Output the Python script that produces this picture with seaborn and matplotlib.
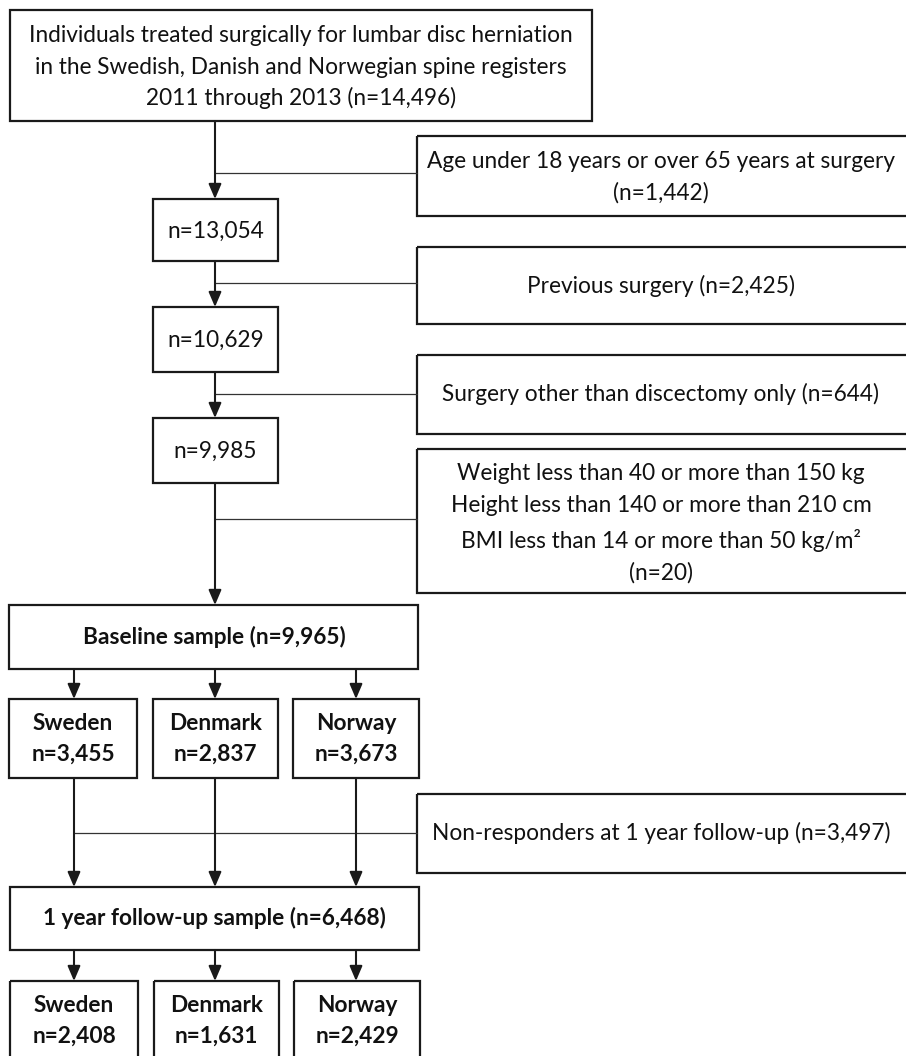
import matplotlib
matplotlib.use("Agg")
import matplotlib.pyplot as plt
import seaborn as sns
from matplotlib.patches import Rectangle

# ---- data ----
total_n = 14496
step_n = [13054, 10629, 9985]
exclusion_text = [
    ["Age under 18 years or over 65 years at surgery", "(n=1,442)"],
    ["Previous surgery (n=2,425)"],
    ["Surgery other than discectomy only (n=644)"],
    ["Weight less than 40 or more than 150 kg",
     "Height less than 140 or more than 210 cm",
     "BMI less than 14 or more than 50 kg/m\u00b2",
     "(n=20)"],
]
countries = ["Sweden", "Denmark", "Norway"]
baseline_total = 9965
baseline_n = [3455, 2837, 3673]
nonresponders = 3497
followup_total = 6468
followup_n = [2408, 1631, 2429]

top_lines = [
    "Individuals treated surgically for lumbar disc herniation",
    "in the Swedish, Danish and Norwegian spine registers",
    f"2011 through 2013 (n={total_n:,})",
]

# ---- layout (pixel coordinates, y downwards) ----
W, H = 906, 1056
main_x = 215
col_x = [74, 215, 356]
step_boxes = [(153, 199, 278, 261), (153, 307, 278, 372), (153, 418, 278, 483)]
excl_boxes = [(417, 136, 910, 216), (417, 247, 910, 324),
              (417, 355, 910, 434), (417, 449, 910, 593)]
excl_line_y = [173, 283, 394, 519]
excl_text_y = [[161, 193], [286], [394], [473, 505, 541, 573]]
country_x = [(9, 137), (153, 278), (293, 419)]

sns.set_theme(style="white")
plt.rcParams["font.family"] = ["Lato", "DejaVu Sans"]

fig = plt.figure(figsize=(W / 100, H / 100), dpi=100)
ax = fig.add_axes([0, 0, 1, 1])
ax.set_xlim(0, W)
ax.set_ylim(H, 0)
ax.axis("off")

FS = 16.3
EDGE = "#1a1a1a"


def box(x0, y0, x1, y1):
    ax.add_patch(Rectangle((x0, y0), x1 - x0, y1 - y0, fill=False,
                           edgecolor=EDGE, linewidth=1.6))


def arrow(x, y0, y1):
    ax.annotate("", xy=(x, y1), xytext=(x, y0),
                arrowprops=dict(arrowstyle="-|>,head_length=0.75,head_width=0.32",
                                mutation_scale=12, color=EDGE, lw=1.5,
                                shrinkA=0, shrinkB=0))


def label(x, y, s, bold=False):
    ax.text(x, y, s, ha="center", va="center", fontsize=FS,
            fontweight="bold" if bold else "normal", color="#111111")


# top box
box(10, 10, 592, 121)
for y, s in zip([35, 67, 98], top_lines):
    label(301, y, s)

# main vertical chain with exclusions
prev_bottom = 121
for (x0, y0, x1, y1), n in zip(step_boxes, step_n):
    arrow(main_x, prev_bottom, y0)
    box(x0, y0, x1, y1)
    label((x0 + x1) / 2, (y0 + y1) / 2 + 1, f"n={n:,}")
    prev_bottom = y1
arrow(main_x, prev_bottom, 605)

for (x0, y0, x1, y1), ly, ty, lines in zip(excl_boxes, excl_line_y,
                                           excl_text_y, exclusion_text):
    ax.plot([main_x, x0], [ly, ly], color="#333333", lw=0.9)
    box(x0, y0, x1, y1)
    for y, s in zip(ty, lines):
        label(661, y, s)

# baseline sample
box(9, 605, 418, 669)
label(214, 637, f"Baseline sample (n={baseline_total:,})", bold=True)
for cx, (x0, x1), country, n in zip(col_x, country_x, countries, baseline_n):
    arrow(cx, 669, 699)
    box(x0, 699, x1, 778)
    label((x0 + x1) / 2, 723, country, bold=True)
    label((x0 + x1) / 2, 754, f"n={n:,}", bold=True)
    arrow(cx, 778, 887)

# non-responders
ax.plot([col_x[0], 417], [833, 833], color="#333333", lw=0.9)
box(417, 794, 910, 873)
label(661, 833, f"Non-responders at 1 year follow-up (n={nonresponders:,})")

# follow-up sample
box(10, 887, 419, 950)
label(214, 918, f"1 year follow-up sample (n={followup_total:,})", bold=True)
for cx, (x0, x1), country, n in zip(col_x, country_x, countries, followup_n):
    arrow(cx, 950, 981)
    box(x0 + 1, 981, x1 + 1, 1062)
    label((x0 + x1) / 2 + 1, 1005, country, bold=True)
    label((x0 + x1) / 2 + 1, 1036, f"n={n:,}", bold=True)

fig.savefig("out.png", dpi=100)
